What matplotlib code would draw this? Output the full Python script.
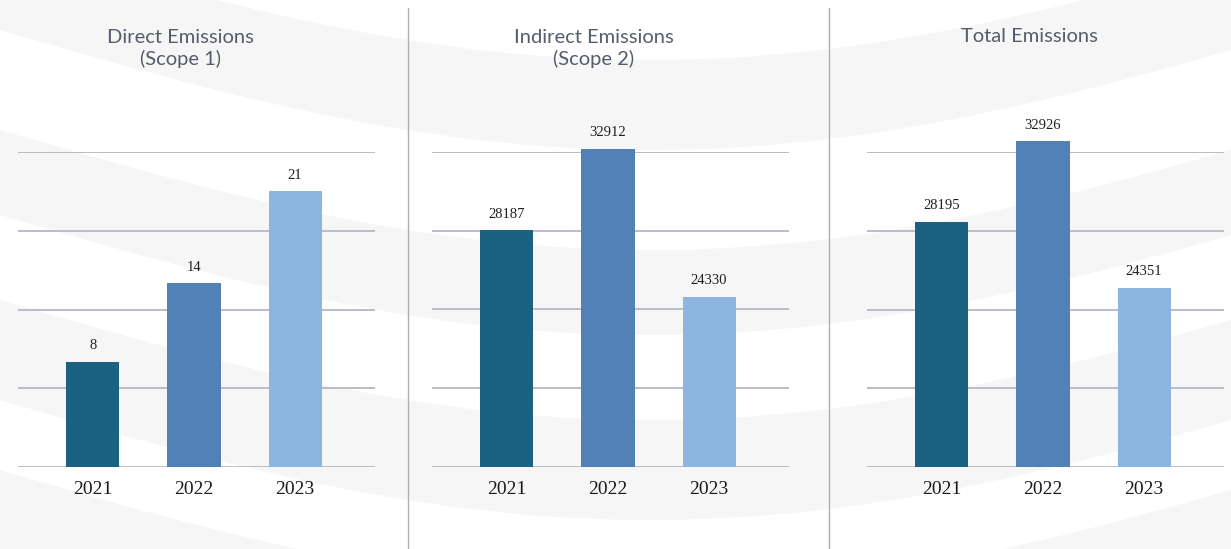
import numpy as np
import matplotlib.pyplot as plt

# emissions by year, tCO2e
years = ['2021', '2022', '2023']
direct = [8, 14, 21]
indirect = [28187, 32912, 24330]
total = [28195, 32926, 24351]

titles = ['Direct Emissions\n(Scope 1)', 'Indirect Emissions\n(Scope 2)', 'Total Emissions']
bar_colors = ['#1b6282', '#5281b7', '#8cb5e0']

W, H = 1231, 549
fig = plt.figure(figsize=(W / 100, H / 100), dpi=100)

# soft wavy background
bg = fig.add_axes([0, 0, 1, 1], zorder=-1)
bg.set_xlim(0, W)
bg.set_ylim(H, 0)
bg.axis('off')
xs = np.linspace(0, W, 400)
wave = 120 * np.sin(np.pi * xs / 1300)
for top, bot in [(-60, 30), (130, 215), (300, 400), (470, 570)]:
    bg.fill_between(xs, top + wave, bot + wave, color='#f6f6f6', lw=0)

# separators between panels
for sx in [408, 829]:
    bg.plot([sx, sx], [8, H], color='#a9afb9', lw=1)

panels = [
    (18, direct, (0, 24)),
    (432, indirect, (14400, 32750)),
    (867, total, (13850, 32300)),
]

for (left, values, lims), title in zip(panels, titles):
    lo, hi = lims
    ax = fig.add_axes([left / W, (H - 467) / H, 357 / W, 315 / H])
    ax.patch.set_alpha(0)
    ax.set_xlim(-0.74, 2.79)
    ax.set_ylim(lo, hi)
    for gy in np.linspace(lo, hi, 5):
        ax.axhline(gy, color='#b3b8c2', lw=1.3, zorder=1)
    x = np.arange(len(years))
    heights = [v - lo for v in values]
    ax.bar(x, heights, bottom=lo, width=0.525, color=bar_colors, zorder=2,
           clip_on=False)
    for xi, v in zip(x, values):
        ax.annotate(str(v), (xi, v), xytext=(0, 7), textcoords='offset points',
                    ha='center', va='bottom', fontsize=10.5,
                    family='Liberation Serif', color='#1e1e1e',
                    annotation_clip=False)
    ax.set_xticks(x)
    ax.set_xticklabels(years, family='Liberation Serif', fontsize=14,
                       color='#1a1a1a')
    ax.tick_params(axis='x', length=0, pad=10)
    ax.set_yticks([])
    for s in ax.spines.values():
        s.set_visible(False)

    cx = (left + 75 + 101 - 14) / W
    style = dict(ha='center', va='center', fontsize=14.5, family='Lato',
                 color='#555c6b')
    if '\n' in title:
        fig.text(cx, 1 - 48.5 / H, title, linespacing=1.2, **style)
    else:
        fig.text(cx, 1 - 37 / H, title, **style)

fig.savefig('out.png', dpi=100)
